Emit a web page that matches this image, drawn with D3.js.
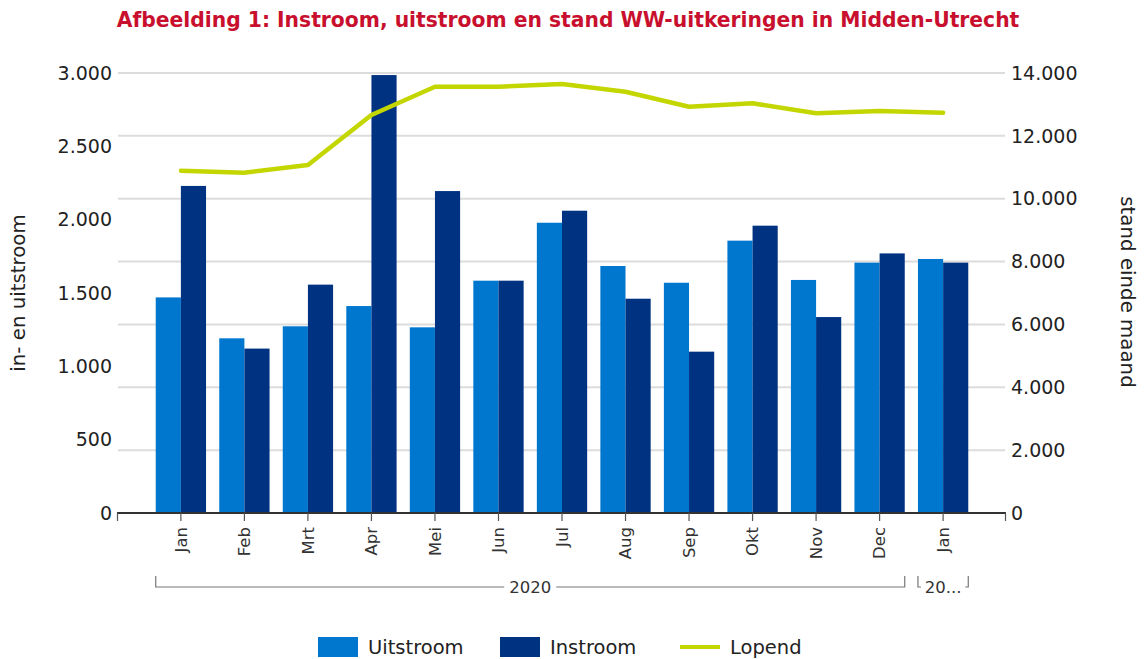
<!DOCTYPE html>
<html>
<head>
<meta charset="utf-8">
<script src="https://cdn.jsdelivr.net/npm/d3@7"></script>
<style>
  body { margin: 0; background: #fff; }
  svg { display: block; font-family: "DejaVu Sans", Verdana, sans-serif; }
</style>
</head>
<body>
<svg id="chart" width="1145" height="659"></svg>
<script>
// ---- data ----
const months = ["Jan", "Feb", "Mrt", "Apr", "Mei", "Jun", "Jul", "Aug", "Sep", "Okt", "Nov", "Dec", "Jan"];
const years = [{ label: "2020", from: 0, to: 11 }, { label: "20...", from: 12, to: 12 }];
const uitstroom = [1470, 1191, 1273, 1411, 1266, 1584, 1979, 1684, 1570, 1857, 1589, 1707, 1732];
const instroom  = [2230, 1121, 1557, 2986, 2195, 1584, 2061, 1461, 1100, 1959, 1336, 1770, 1707];
const lopend    = [10890, 10828, 11073, 12664, 13564, 13564, 13650, 13405, 12928, 13035, 12718, 12791, 12737];
const leftTicks  = [0, 500, 1000, 1500, 2000, 2500, 3000];
const rightTicks = [0, 2000, 4000, 6000, 8000, 10000, 12000, 14000];
const seriesNames = ["Uitstroom", "Instroom", "Lopend"];
const colors = { Uitstroom: "#0077cf", Instroom: "#003282", Lopend: "#c4d600" };
const title = "Afbeelding 1: Instroom, uitstroom en stand WW-uitkeringen in Midden-Utrecht";

// ---- setup ----
const svg = d3.select("#chart");
const nl = d3.formatLocale({ decimal: ",", thousands: ".", grouping: [3], currency: ["€", ""] });
const fmt = nl.format(",d");

const x0 = 118, x1 = 1006, yBottom = 513, yTop = 73;
const idx = months.map((d, i) => i);
const x = d3.scaleBand().domain(idx).range([x0, x1]).paddingInner(0.208).paddingOuter(0.594);
const xs = d3.scaleBand().domain(["Uitstroom", "Instroom"]).range([0, x.bandwidth()]);
const yL = d3.scaleLinear().domain([0, 3000]).range([yBottom, yTop]);
const yR = d3.scaleLinear().domain([0, 14000]).range([yBottom, yTop]);

// title
const t = svg.append("text").attr("x", 568).attr("y", 27).attr("text-anchor", "middle")
  .attr("fill", "#c8102e").attr("font-weight", "bold").attr("font-size", 18).text(title);
const tw = t.node().getComputedTextLength();
t.attr("font-size", 18 * 903 / tw);

// gridlines (right axis)
svg.append("g").selectAll("line").data(rightTicks.filter(d => d > 0)).join("line")
  .attr("x1", x0).attr("x2", x1 - 1).attr("y1", d => yR(d)).attr("y2", d => yR(d))
  .attr("stroke", "#dcdcdc").attr("stroke-width", 2);

// bars
const groups = svg.append("g").selectAll("g").data(idx).join("g")
  .attr("transform", i => `translate(${x(i)},0)`);
groups.append("rect").attr("x", xs("Uitstroom")).attr("width", xs.bandwidth())
  .attr("y", i => yL(uitstroom[i])).attr("height", i => yBottom - yL(uitstroom[i]))
  .attr("fill", colors.Uitstroom);
groups.append("rect").attr("x", xs("Instroom")).attr("width", xs.bandwidth())
  .attr("y", i => yL(instroom[i])).attr("height", i => yBottom - yL(instroom[i]))
  .attr("fill", colors.Instroom);

// line
const line = d3.line().x((d, i) => x(i) + x.bandwidth() / 2).y(d => yR(d));
svg.append("path").datum(lopend).attr("d", line).attr("fill", "none")
  .attr("stroke", colors.Lopend).attr("stroke-width", 4.5)
  .attr("stroke-linejoin", "round").attr("stroke-linecap", "round");

// baseline and x ticks
svg.append("line").attr("x1", x0 - 1).attr("x2", x1).attr("y1", yBottom).attr("y2", yBottom)
  .attr("stroke", "#333").attr("stroke-width", 2.2);
const tickXs = [x0 - 0.5].concat(idx.map(i => x(i) + x.bandwidth() / 2)).concat([x1 - 0.5]);
svg.append("g").selectAll("line").data(tickXs).join("line")
  .attr("x1", d => d).attr("x2", d => d).attr("y1", yBottom).attr("y2", yBottom + 8)
  .attr("stroke", "#555").attr("stroke-width", 1.2);

// month labels
svg.append("g").selectAll("text").data(idx).join("text")
  .attr("transform", i => `translate(${x(i) + x.bandwidth() / 2},527) rotate(-90)`)
  .attr("text-anchor", "end").attr("dy", "0.35em")
  .attr("font-size", 16.5).attr("fill", "#333").text(i => months[i]);

// year brackets
const yb = 587, ybTop = 576;
years.forEach(g => {
  const gx0 = x(g.from), gx1 = x(g.to) + x.bandwidth(), cx = (gx0 + gx1) / 2;
  const lbl = svg.append("text").attr("x", cx).attr("y", yb).attr("dy", "0.35em")
    .attr("text-anchor", "middle").attr("font-size", 16.5).attr("fill", "#333").text(g.label);
  const w = lbl.node().getComputedTextLength() / 2 + 5;
  const p = svg.append("path").attr("fill", "none").attr("stroke", "#777").attr("stroke-width", 1.2);
  p.attr("d", `M${gx0},${ybTop}V${yb}H${Math.max(gx0 + 3, cx - w)}M${Math.min(gx1 - 3, cx + w)},${yb}H${gx1}V${ybTop}`);
});

// left tick labels
svg.append("g").selectAll("text").data(leftTicks).join("text")
  .attr("x", 112).attr("y", d => yL(d)).attr("dy", "0.35em").attr("text-anchor", "end")
  .attr("font-size", 19).attr("fill", "#222").text(d => fmt(d));

// right tick labels
svg.append("g").selectAll("text").data(rightTicks).join("text")
  .attr("x", 1011).attr("y", d => yR(d)).attr("dy", "0.35em").attr("text-anchor", "start")
  .attr("font-size", 19).attr("fill", "#222").text(d => fmt(d));

// axis titles
svg.append("text").attr("transform", "translate(18,293) rotate(-90)").attr("text-anchor", "middle")
  .attr("dy", "0.35em").attr("font-size", 19.8).attr("fill", "#222").text("in- en uitstroom");
svg.append("text").attr("transform", "translate(1128,292) rotate(90)").attr("text-anchor", "middle")
  .attr("dy", "0.35em").attr("font-size", 19.8).attr("fill", "#222").text("stand einde maand");

// legend
const legendX = [318, 500, 680];
const lg = svg.append("g").selectAll("g").data(seriesNames).join("g")
  .attr("transform", (d, i) => `translate(${legendX[i]},647)`);
lg.each(function (d) {
  const g = d3.select(this);
  if (d === "Lopend") {
    g.append("line").attr("x1", 0).attr("x2", 40).attr("y1", 0).attr("y2", 0)
      .attr("stroke", colors[d]).attr("stroke-width", 4);
  } else {
    g.append("rect").attr("x", 0).attr("y", -10).attr("width", 40).attr("height", 20).attr("fill", colors[d]);
  }
  g.append("text").attr("x", 50).attr("dy", "0.35em").attr("font-size", 19.5).attr("fill", "#222").text(d);
});
</script>
</body>
</html>
